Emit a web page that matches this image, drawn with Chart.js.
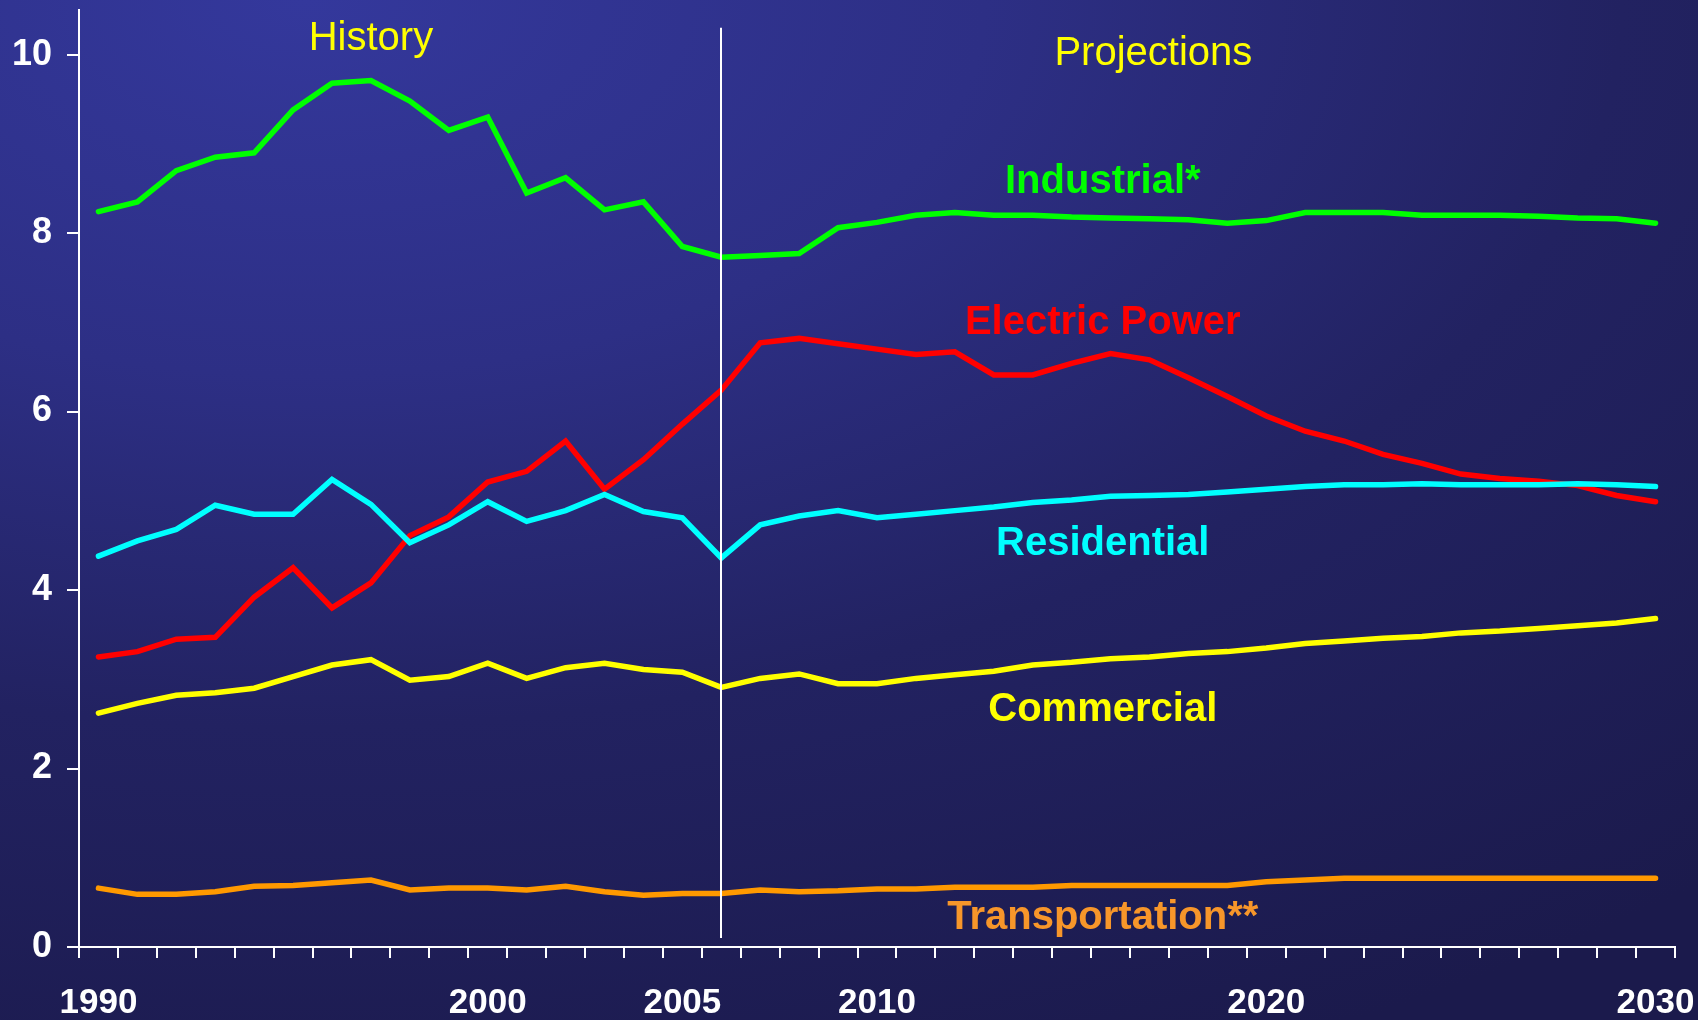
<!DOCTYPE html>
<html>
<head>
<meta charset="utf-8">
<script src="https://cdn.jsdelivr.net/npm/chart.js@4"></script>
<style>
  html, body { margin: 0; padding: 0; }
  body {
    width: 1698px; height: 1020px; overflow: hidden;
    background: radial-gradient(ellipse 125% 115% at 18% 0%, #34389c 0%, #2d2f85 32%, #222261 62%, #1b1a4c 100%);
  }
</style>
</head>
<body>
<canvas id="chart" width="1698" height="1020"></canvas>
<script>
// years on the x axis, only some of them get a label
const years = []
for (let y = 1990; y <= 2030; y++) years.push(String(y))
const labeledYears = ['1990', '2000', '2005', '2010', '2020', '2030']

const industrial = [8.24, 8.35, 8.70, 8.85, 8.90, 9.38, 9.68, 9.71, 9.48, 9.15,
    9.30, 8.45, 8.62, 8.26, 8.35, 7.85, 7.73, 7.75, 7.77, 8.06,
    8.12, 8.20, 8.23, 8.20, 8.20, 8.18, 8.17, 8.16, 8.15, 8.11,
    8.14, 8.23, 8.23, 8.23, 8.20, 8.20, 8.20, 8.19, 8.17, 8.16, 8.11]
const electricPower = [3.25, 3.31, 3.45, 3.47, 3.92, 4.25, 3.80, 4.08, 4.61, 4.82,
    5.21, 5.33, 5.67, 5.13, 5.46, 5.86, 6.24, 6.77, 6.82, 6.76,
    6.70, 6.64, 6.67, 6.41, 6.41, 6.54, 6.65, 6.58, 6.38, 6.17,
    5.95, 5.78, 5.67, 5.52, 5.42, 5.30, 5.25, 5.22, 5.17, 5.06, 4.99]
const residential = [4.38, 4.55, 4.68, 4.95, 4.85, 4.85, 5.24, 4.96, 4.53, 4.73,
    4.99, 4.77, 4.89, 5.07, 4.88, 4.81, 4.36, 4.73, 4.83, 4.89,
    4.81, 4.85, 4.89, 4.93, 4.98, 5.01, 5.05, 5.06, 5.07, 5.10,
    5.13, 5.16, 5.18, 5.18, 5.19, 5.18, 5.18, 5.18, 5.19, 5.18, 5.16]
const commercial = [2.62, 2.73, 2.82, 2.85, 2.90, 3.03, 3.16, 3.22, 2.99, 3.03,
    3.18, 3.01, 3.13, 3.18, 3.11, 3.08, 2.91, 3.01, 3.06, 2.95,
    2.95, 3.01, 3.05, 3.09, 3.16, 3.19, 3.23, 3.25, 3.29, 3.31,
    3.35, 3.40, 3.43, 3.46, 3.48, 3.52, 3.54, 3.57, 3.60, 3.63, 3.68]
const transportation = [0.66, 0.59, 0.59, 0.62, 0.68, 0.69, 0.72, 0.75, 0.64, 0.66,
    0.66, 0.64, 0.68, 0.62, 0.58, 0.60, 0.60, 0.64, 0.62, 0.63,
    0.65, 0.65, 0.67, 0.67, 0.67, 0.69, 0.69, 0.69, 0.69, 0.69,
    0.73, 0.75, 0.77, 0.77, 0.77, 0.77, 0.77, 0.77, 0.77, 0.77, 0.77]

// text labels placed in data units (x = year index, y = value)
const seriesLabels = [
    {text: 'Industrial*', x: 25.8, y: 8.57, color: '#00ff00', bold: true},
    {text: 'Electric Power', x: 25.8, y: 6.99, color: '#ff0000', bold: true},
    {text: 'Residential', x: 25.8, y: 4.52, color: '#00ffff', bold: true},
    {text: 'Commercial', x: 25.8, y: 2.66, color: '#ffff00', bold: true},
    {text: 'Transportation**', x: 25.8, y: 0.32, color: '#f7962a', bold: true},
    {text: 'History', x: 7.0, y: 10.18, color: '#ffff00', bold: false},
    {text: 'Projections', x: 27.1, y: 10.01, color: '#ffff00', bold: false}
]
const dividerIndex = 16 // 2006
const dividerRange = [0.1, 10.3]

const FONT = '"Liberation Sans", Arial, sans-serif'

const annotations = {
    id: 'annotations',
    afterDatasetsDraw(chart) {
        const ctx = chart.ctx
        const xs = chart.scales.x
        const ys = chart.scales.y
        ctx.save()
        // history / projections divider
        const dx = Math.round(xs.getPixelForValue(dividerIndex))
        ctx.strokeStyle = '#ffffff'
        ctx.lineWidth = 2
        ctx.beginPath()
        ctx.moveTo(dx, ys.getPixelForValue(dividerRange[1]))
        ctx.lineTo(dx, ys.getPixelForValue(dividerRange[0]))
        ctx.stroke()

        ctx.textAlign = 'center'
        ctx.textBaseline = 'middle'
        seriesLabels.forEach(function (l) {
            ctx.font = (l.bold ? 'bold ' : '') + '40px ' + FONT
            ctx.fillStyle = l.color
            ctx.fillText(l.text, xs.getPixelForValue(l.x), ys.getPixelForValue(l.y))
        })
        ctx.restore()
    }
}

function line(label, data, color) {
    return {
        label: label,
        data: data,
        borderColor: color,
        backgroundColor: color,
        borderWidth: 5.5,
        pointRadius: 0,
        tension: 0,
        borderCapStyle: 'round',
        borderJoinStyle: 'miter'
    }
}

new Chart(document.getElementById('chart'), {
    type: 'line',
    data: {
        labels: years,
        datasets: [
            line('Transportation', transportation, '#ff9900'),
            line('Commercial', commercial, '#ffff00'),
            line('Residential', residential, '#00ffff'),
            line('Electric Power', electricPower, '#ff0000'),
            line('Industrial', industrial, '#00ff00')
        ]
    },
    options: {
        responsive: false,
        animation: false,
        layout: {padding: {top: 10, right: 23, left: 0, bottom: 0}},
        plugins: {legend: {display: false}, tooltip: {enabled: false}},
        scales: {
            x: {
                type: 'category',
                offset: true,
                afterFit(scale) {
                    scale.height = 73
                    scale.paddingLeft = 0
                    scale.paddingRight = 0
                },
                border: {display: true, color: '#ffffff', width: 2},
                grid: {
                    offset: true,
                    drawOnChartArea: false,
                    drawTicks: true,
                    tickLength: 11,
                    color: '#ffffff',
                    lineWidth: 2
                },
                ticks: {
                    autoSkip: false,
                    maxRotation: 0,
                    padding: 24,
                    color: '#ffffff',
                    font: {family: FONT, size: 35, weight: 'bold'},
                    callback: function (value, index) {
                        return labeledYears.includes(years[index]) ? years[index] : ''
                    }
                }
            },
            y: {
                min: 0,
                max: 10.5,
                afterFit(scale) {
                    scale.width = 79
                    scale.paddingTop = 0
                    scale.paddingBottom = 0
                },
                afterBuildTicks(scale) {
                    scale.ticks = scale.ticks.filter(t => t.value <= 10)
                },
                border: {display: true, color: '#ffffff', width: 2},
                grid: {
                    drawOnChartArea: false,
                    drawTicks: true,
                    tickLength: 12,
                    color: '#ffffff',
                    lineWidth: 2
                },
                ticks: {
                    stepSize: 2,
                    padding: 15,
                    color: '#ffffff',
                    font: {family: FONT, size: 36, weight: 'bold'}
                }
            }
        }
    },
    plugins: [annotations]
})
</script>
</body>
</html>
